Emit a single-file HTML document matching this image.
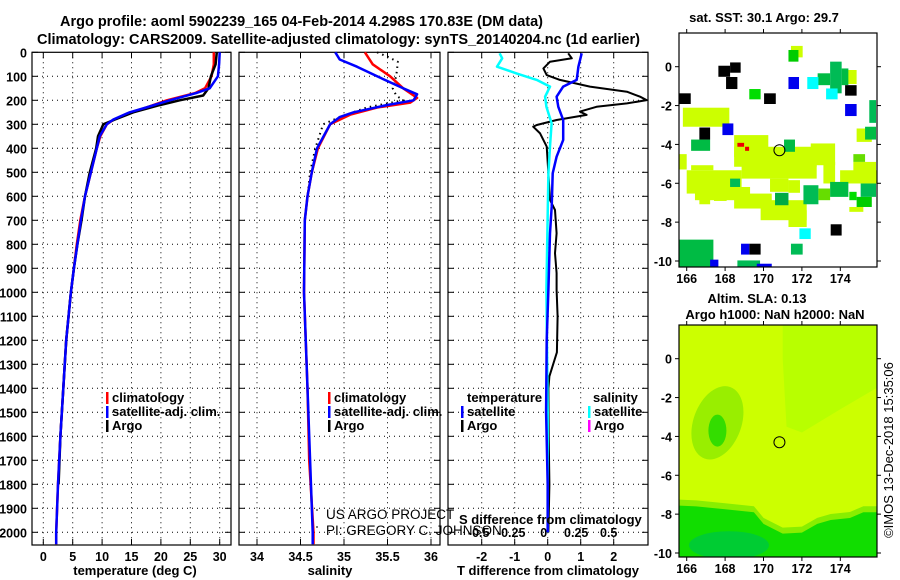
<!DOCTYPE html>
<html><head><meta charset="utf-8"><style>
html,body{margin:0;padding:0;background:#fff;}
svg{display:block;font-family:"Liberation Sans",sans-serif;}
.t{font-weight:bold;font-size:13px;fill:#000;}
.tk{font-weight:bold;font-size:12.5px;fill:#000;}
</style></head><body>
<svg id="c" width="900" height="580" viewBox="0 0 900 580" xmlns="http://www.w3.org/2000/svg">
<text class="t" x="60" y="26" textLength="483" lengthAdjust="spacingAndGlyphs" style="font-size:14.5px">Argo profile: aoml 5902239_165 04-Feb-2014 4.298S 170.83E (DM data)</text>
<text class="t" x="37" y="44" textLength="603" lengthAdjust="spacingAndGlyphs" style="font-size:14.5px">Climatology: CARS2009. Satellite-adjusted climatology: synTS_20140204.nc (1d earlier)</text>
<text class="t" x="764" y="22" text-anchor="middle">sat. SST: 30.1 Argo: 29.7</text>
<text class="t" x="757" y="303" text-anchor="middle">Altim. SLA: 0.13</text>
<text class="t" x="775" y="319" text-anchor="middle">Argo h1000: NaN h2000: NaN</text>
<text x="893" y="450" font-size="13" text-anchor="middle" transform="rotate(-90 893 450)">©IMOS 13-Dec-2018 15:35:06</text>
<g id="g"></g>
</svg>
<script>
// ---- data ----
const depthTicks=[0,100,200,300,400,500,600,700,800,900,1000,1100,1200,1300,1400,1500,1600,1700,1800,1900,2000];
const tempTicks=[0,5,10,15,20,25,30];
const salTicks=[34,34.5,35,35.5,36];
const tdiffTicks=[-2,-1,0,1,2];
const sdiffTicks=[-0.5,-0.25,0,0.25,0.5];
const tempClimD=[0,50,100,150,170,200,230,250,280,300,350,400,500,600,700,800,900,1000,1200,1400,1600,1800,2000,2050];
const tempClimV=[29.0,29.0,28.6,27.5,25.8,21.0,17.5,15.0,12.0,10.8,9.7,9.1,8.1,7.1,6.3,5.7,5.2,4.7,3.9,3.4,2.9,2.5,2.2,2.2];
const tempSatD=[0,50,100,150,170,200,230,250,280,300,350,400,500,600,700,800,900,1000,1200,1400,1600,1800,2000,2050];
const tempSatV=[30.0,29.9,29.7,28.3,26.0,21.5,17.5,14.7,11.9,10.8,9.6,9.1,8.1,7.1,6.4,5.8,5.2,4.7,3.9,3.4,2.9,2.5,2.2,2.2];
const tempArgoD=[0,50,100,150,180,200,220,250,280,300,350,400,500,600,700,800,900,1000,1200,1400,1600,1800];
const tempArgoV=[29.5,29.3,28.5,28.1,27.2,23.2,19.8,15.3,12.2,10.2,9.3,9.0,7.9,7.1,6.5,5.8,5.2,4.7,3.9,3.4,2.9,2.6];
const salClimD=[0,50,100,150,190,210,230,260,300,400,500,600,700,1000,1400,1700,2000,2050];
const salClimV=[35.24,35.33,35.53,35.68,35.84,35.76,35.38,35.07,34.84,34.70,34.63,34.58,34.55,34.54,34.58,34.60,34.65,34.65];
const salSatD=[0,30,60,100,150,175,200,220,250,270,300,400,500,600,700,1000,1400,1700,2000,2050];
const salSatV=[34.9,34.95,35.15,35.38,35.68,35.84,35.8,35.49,35.11,34.95,34.84,34.69,34.63,34.58,34.55,34.54,34.58,34.61,34.64,34.64];
const salArgoD=[0,20,40,100,150,180,200,230,270,300,400,500,600];
const salArgoV=[35.38,35.51,35.62,35.6,35.56,35.6,35.68,35.26,34.95,34.76,34.67,34.61,34.58];
const tdArgoD=[4,25,39,67,95,115,143,164,185,199,213,227,247,261,282,303,310,338,393,504,615,657,754,837,920,990,1100,1250,1350,1400,1600,1800,2000];
const tdArgoV=[0.62,0.73,0.07,-0.13,-0.03,0.37,1.28,2.4,2.8,3.0,2.4,1.48,0.98,1.18,0.27,-0.33,-0.44,-0.23,-0.03,0.02,0.07,0.22,0.27,0.22,0.27,0.27,0.3,0.28,0.05,0.02,0.03,0.05,0.02];
const tdSatD=[4,60,115,143,185,227,282,365,435,504,643,754,990,1200,1500,1800,2000];
const tdSatV=[1.03,0.93,0.88,0.47,0.27,0.32,0.47,0.47,0.27,0.15,0.12,0.07,0.02,-0.03,-0.05,0.0,0.0];
const sdSatD=[4,25,60,88,115,143,185,227,296,393,504,990,1500,2000];
const sdSatV=[-0.37,-0.35,-0.39,-0.24,-0.085,0.018,-0.02,-0.01,0.03,0.018,0.005,-0.01,0.0,0.0];
// SST map cells: [lon0, lat0, lon1, lat1, colour]
const sstCells=[
[165.8,-2.11,168.22,-3.09,'#ccff00'],[165.62,-4.5,166,-5.29,'#ccff00'],
[168.47,-3.52,170.25,-4.64,'#ccff00'],[168.47,-4.12,172.77,-5.15,'#ccff00'],[168.86,-5.07,172.77,-5.76,'#ccff00'],
[166,-5.33,168.86,-6.53,'#ccff00'],[166.23,-5.07,167.39,-5.33,'#ccff00'],[166.43,-6.19,169.3,-6.87,'#ccff00'],
[166.66,-6.53,167.22,-7.08,'#ccff00'],[167.42,-6.53,168.08,-6.91,'#ccff00'],[168.47,-6.53,170.43,-7.3,'#ccff00'],
[169.85,-6.87,172.25,-7.9,'#ccff00'],[171.3,-7.39,172.25,-8.25,'#ccff00'],[172.46,-3.95,173.73,-5.07,'#ccff00'],
[173.12,-4.9,173.73,-6.01,'#ccff00'],[174.68,-4.9,175.86,-5.5,'#ccff00'],[173.99,-5.33,175.9,-6.01,'#ccff00'],
[174.85,-3.18,175.64,-3.87,'#ccff00'],[174.47,-7.22,175.2,-7.47,'#ccff00'],[170.34,-5.76,171.3,-6.44,'#ccff00'],
[171.3,-5.84,171.9,-6.49,'#ccff00'],[171.43,1.07,172.04,0.48,'#ccff00'],[174.25,-0.17,174.85,-0.89,'#ccff00'],
[171.3,0.86,171.82,0.26,'#00cc00'],[169.26,-1.15,169.85,-1.68,'#00dd00'],[172.82,-0.34,173.47,-0.95,'#00bb44'],
[173.47,0.26,174.07,-1.37,'#00bb55'],[174.07,-0.09,174.42,-0.95,'#00bb44'],[166.23,-3.75,167.22,-4.33,'#00bb44'],
[175.51,-1.72,175.86,-2.89,'#00bb55'],[171.07,-3.75,171.64,-4.38,'#00bb44'],[172.08,-6.1,172.86,-7.08,'#00bb55'],
[172.86,-6.27,173.47,-6.87,'#66dd00'],[173.47,-5.93,174.42,-6.7,'#00bb44'],[174.47,-6.44,174.85,-6.87,'#00dd00'],
[175.06,-6.01,175.86,-6.7,'#00bb55'],[174.85,-6.7,175.64,-7.22,'#00cc00'],[171.43,-9.11,172.04,-9.67,'#00bb55'],
[165.62,-8.9,167.39,-10.31,'#00bb44'],[168.64,-9.97,169.82,-10.31,'#00bb55'],[174.68,-4.5,175.29,-4.9,'#66dd00'],
[175.29,-3.09,175.86,-3.75,'#00bb44'],[168.26,-5.76,168.78,-6.19,'#00bb55'],[170.6,-6.49,171.3,-7.13,'#00aa44'],
[167.65,0.05,168.26,-0.52,'#000'],[168.26,0.22,168.81,-0.31,'#000'],[168.05,-0.53,168.64,-1.15,'#000'],
[170.03,-1.37,170.64,-1.92,'#000'],[165.62,-1.37,166.21,-1.92,'#000'],[166.66,-3.13,167.22,-3.75,'#000'],
[174.25,-0.95,174.85,-1.49,'#000'],[173.5,-8.11,174.07,-8.69,'#000'],[169.26,-9.11,169.85,-9.67,'#000'],
[171.3,-0.53,171.85,-1.15,'#0000ee'],[167.86,-2.92,168.43,-3.52,'#0000ee'],[174.25,-1.92,174.85,-2.54,'#0000ee'],
[168.83,-9.11,169.26,-9.67,'#0000ee'],[167.22,-9.93,167.65,-10.31,'#0000ee'],[169.65,-10.14,170.43,-10.31,'#0000ee'],
[172.28,-0.53,172.86,-1.15,'#00ffff'],[173.26,-1.12,173.86,-1.68,'#00ffff'],[171.87,-8.32,172.46,-8.87,'#00ffff'],
[168.64,-3.92,168.99,-4.12,'#ee0000'],[169.04,-4.12,169.25,-4.33,'#ee0000']];
// SLA map regions (lon/lat polygons)
const slaLight=[[171,1.72],[175.9,1.72],[175.9,-1.5],[174,-2.6],[172,-3.8],[171.2,-3.5],[171,0]];
const slaGreenLon=[165.62,166.5,168,169.5,170,171,172,172.8,173.5,174.5,175.2,175.93,175.93,165.62];
const slaGreenLat=[-7.56,-7.6,-7.75,-7.9,-8.5,-9.0,-8.95,-8.5,-8.3,-8.2,-7.9,-7.9,-10.31,-10.31];
const mapLonTicks=[166,168,170,172,174];
const mapLatTicks=[0,-2,-4,-6,-8,-10];
const floatLon=170.83, floatLat=-4.298;

// ---- helpers ----
const NS='http://www.w3.org/2000/svg';
const G=document.getElementById('g');
function mk(tag,attrs,parent){const e=document.createElementNS(NS,tag);for(const k in attrs)e.setAttribute(k,attrs[k]);(parent||G).appendChild(e);return e;}
const top0=52.3, bot=545;
const yD=d=>top0+d*0.24;
const xT=v=>43.3+v*5.88;
const xS=v=>257+(v-34)*87;
const xTD=v=>547.7+v*33;
const xSD=v=>547.7+v*130;
const panels=[[32,231],[239,440],[448,648]];

panels.forEach((p,i)=>{
  depthTicks.forEach(d=>{
    if(d>0){const l=mk('line',{x1:p[0],x2:p[1],y1:yD(d),y2:yD(d),stroke:'#000','stroke-dasharray':'1,4','stroke-width':1});
    
    }
    const t1=mk('line',{x1:p[0],x2:p[0]+6,y1:yD(d),y2:yD(d),stroke:'#000'});
    
    
    const t2=mk('line',{x1:p[1]-6,x2:p[1],y1:yD(d),y2:yD(d),stroke:'#000'});
    
    
  });
});
depthTicks.forEach(d=>{
  const t=mk('text',{x:27,y:yD(d)+5,'text-anchor':'end',class:'tk'});t.textContent=d;
  
  
});
function xgrid(ticks,fx,p,labelY,name){
  ticks.forEach(v=>{
    const x=fx(v);
    const l=mk('line',{x1:x,x2:x,y1:top0,y2:bot,stroke:'#000','stroke-dasharray':'1,4'});
    
    
    mk('line',{x1:x,x2:x,y1:bot-6,y2:bot,stroke:'#000'});
    mk('line',{x1:x,x2:x,y1:top0,y2:top0+6,stroke:'#000'});
    if(labelY){const t=mk('text',{x:x,y:labelY,'text-anchor':'middle',class:'tk'});t.textContent=v;
    
    }
  });
}
xgrid(tempTicks,xT,panels[0],561,'temperature');
xgrid(salTicks,xS,panels[1],561,'salinity');
xgrid(tdiffTicks,xTD,panels[2],561,'t-difference');
sdiffTicks.forEach(v=>{const t=mk('text',{x:xSD(v)-4,y:537,'text-anchor':'middle',class:'tk'});t.textContent=v;

});
panels.forEach((p,i)=>{const r=mk('rect',{x:p[0],y:top0,width:p[1]-p[0],height:bot-top0,fill:'none',stroke:'#000','stroke-width':1.2});

});

function line(D,V,fx,col,w,name,dash){
  const pts=D.map((d,i)=>fx(V[i]).toFixed(1)+','+yD(d).toFixed(1)).join(' ');
  const a={points:pts,fill:'none',stroke:col,'stroke-width':w,'stroke-linejoin':'round'};
  if(dash)a['stroke-dasharray']=dash;
  const e=mk('polyline',a);
  
  
}
line(tempClimD,tempClimV,xT,'#ff0000',2.5,'temperature-climatology-line');
line(tempArgoD,tempArgoV,xT,'#000',2.5,'temperature-argo-line');
line(tempSatD,tempSatV,xT,'#0000ff',2.5,'temperature-satellite-line');
line(salArgoD,salArgoV,xS,'#000',2,'salinity-argo-line','1.5,4');
line(salClimD,salClimV,xS,'#ff0000',2.5,'salinity-climatology-line');
line(salSatD,salSatV,xS,'#0000ff',2.5,'salinity-satellite-line');
line(tdArgoD,tdArgoV,xTD,'#000',2,'t-difference-argo-line');
line(sdSatD,sdSatV,xSD,'#00ffff',2.5,'s-difference-satellite-line');
line(tdSatD,tdSatV,xTD,'#0000ff',2.5,'t-difference-satellite-line');

[['temperature (deg C)',135],['salinity',330],['T difference from climatology',548]].forEach((a,i)=>{
 const t=mk('text',{x:a[1],y:575,'text-anchor':'middle',class:'t'});t.textContent=a[0];
 
 });
const sdt=mk('text',{x:459,y:524,class:'t'});sdt.textContent='S difference from climatology';



function leg(x,y,col,txt,name){
  mk('rect',{x:x,y:y-10,width:2.5,height:12,fill:col});
  const t=mk('text',{x:x+6,y:y,class:'t'});t.textContent=txt;
  
  
}
leg(106,402,'#ff0000','climatology','legend-climatology-1');
leg(106,416,'#0000ff','satellite-adj. clim.','legend-satellite-1');
leg(106,430,'#000','Argo','legend-argo-1');
leg(328,402,'#ff0000','climatology','legend-climatology-2');
leg(328,416,'#0000ff','satellite-adj. clim.','legend-satellite-2');
leg(328,430,'#000','Argo','legend-argo-2');
let tt=mk('text',{x:467,y:402,class:'t'});tt.textContent='temperature';


leg(461,416,'#0000ff','satellite','legend-t-satellite');
leg(461,430,'#000','Argo','legend-t-argo');
tt=mk('text',{x:593,y:402,class:'t'});tt.textContent='salinity';


leg(588,416,'#00ffff','satellite','legend-s-satellite');
leg(588,430,'#ff00ff','Argo','legend-s-argo');
mk('line',{x1:316,x2:318,y1:510,y2:510,stroke:'#000'});
mk('line',{x1:316,x2:318,y1:527,y2:527,stroke:'#000'});
tt=mk('text',{x:326,y:519,'font-size':'13.5'});tt.textContent='US ARGO PROJECT';


tt=mk('text',{x:326,y:535,'font-size':'13.5'});tt.textContent='PI: GREGORY C. JOHNSON';



// ---- maps ----
const mL=679,mR=877;
const mx=lon=>686.7+(lon-166)*19.2;
function drawMap(ty,by,kind){
  const y0=ty+(66.7-33);
  const my=lat=>y0-lat*19.43;
  const clip='clip'+kind;
  const cp=mk('clipPath',{id:clip});mk('rect',{x:mL,y:ty,width:mR-mL,height:by-ty},cp);
  const g=mk('g',{'clip-path':'url(#'+clip+')'});
  
  
  if(kind==='sst'){
    sstCells.forEach(c=>{const r=mk('rect',{x:mx(c[0]),y:my(c[1]),width:mx(c[2])-mx(c[0]),height:my(c[3])-my(c[1]),fill:c[4]},g);
    
    });
  }else{
    mk('rect',{x:mL,y:ty,width:mR-mL,height:by-ty,fill:'#ccff00'},g);
    let p=mk('polygon',{points:slaLight.map(q=>mx(q[0])+','+my(q[1])).join(' '),fill:'#b8ff00'},g);
    
    
    let e=mk('ellipse',{cx:mx(167.6),cy:my(-3.3),rx:24,ry:38,fill:'#99ee00',transform:'rotate(20 '+mx(167.6)+' '+my(-3.3)+')'},g);
    
    
    mk('ellipse',{cx:mx(167.6),cy:my(-3.7),rx:9,ry:16,fill:'#33dd00'},g);
    const ptsB=slaGreenLon.map((l,i)=>mx(l)+','+(my(slaGreenLat[i])-6)).join(' ');
    mk('polygon',{points:ptsB,fill:'#88ee00'},g);
    const pts=slaGreenLon.map((l,i)=>mx(l)+','+my(slaGreenLat[i])).join(' ');
    p=mk('polygon',{points:pts,fill:'#11dd00'},g);
    
    
    mk('ellipse',{cx:mx(168.2),cy:my(-9.6),rx:40,ry:14,fill:'#00cc33'},g);
  }
  const c=mk('circle',{cx:mx(floatLon),cy:my(floatLat),r:5.5,fill:'none',stroke:'#000','stroke-width':1});
  
  
  const fr=mk('rect',{x:mL,y:ty,width:mR-mL,height:by-ty,fill:'none',stroke:'#000','stroke-width':1.2});
  
  
  mapLonTicks.forEach(l=>{const x=mx(l);
    mk('line',{x1:x,x2:x,y1:by,y2:by+4,stroke:'#000'});mk('line',{x1:x,x2:x,y1:ty-4,y2:ty,stroke:'#000'});
    const t=mk('text',{x:x,y:by+16,'text-anchor':'middle',class:'tk'});t.textContent=l;
    
    });
  mapLatTicks.forEach(l=>{const y=my(l);
    mk('line',{x1:mL-4,x2:mL,y1:y,y2:y,stroke:'#000'});mk('line',{x1:mR,x2:mR+4,y1:y,y2:y,stroke:'#000'});
    const t=mk('text',{x:672,y:y+5,'text-anchor':'end',class:'tk'});t.textContent=l;
    
    });
}
drawMap(33,267,'sst');
drawMap(325,557,'sla');
</script>
</body></html>
